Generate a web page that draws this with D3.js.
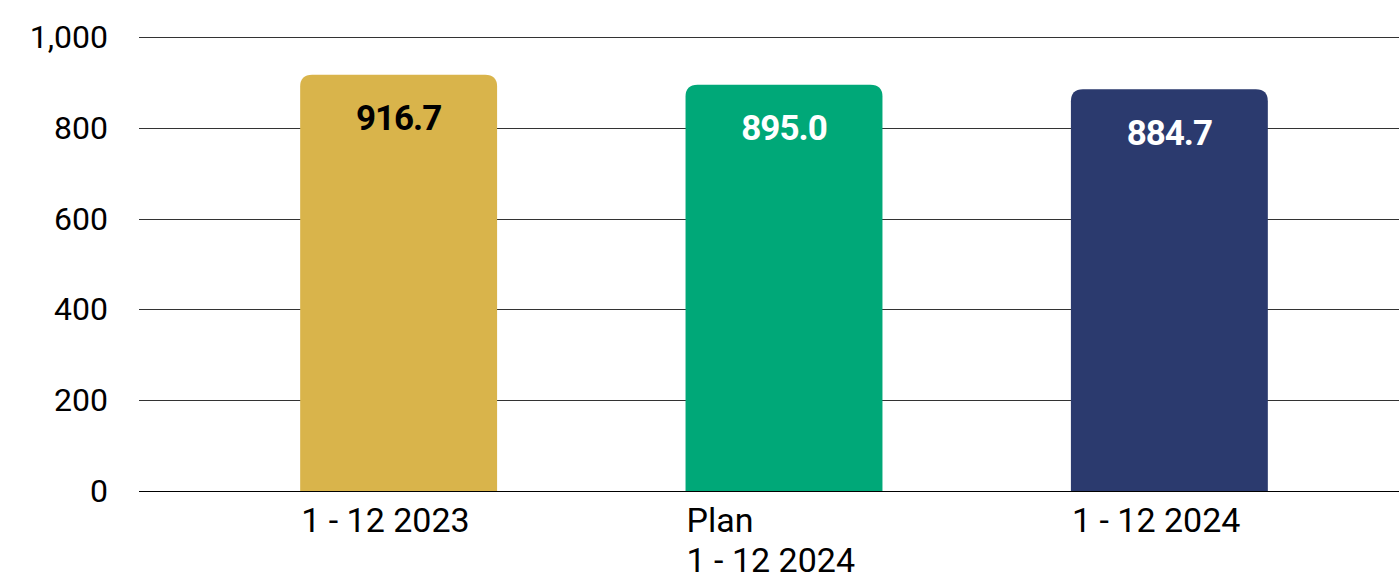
<!DOCTYPE html>
<html>
<head>
<meta charset="utf-8">
<script src="https://cdn.jsdelivr.net/npm/d3@7"></script>
<style>
  html, body { margin: 0; padding: 0; background: #fff; }
  svg { display: block; font-family: Roboto, "Noto Sans", sans-serif; }
</style>
</head>
<body>
<svg id="chart" width="1399" height="574"></svg>
<script>
// Annual totals: 2023 actual, 2024 plan, 2024 actual
const categories = [["1 - 12 2023"], ["Plan", "1 - 12 2024"], ["1 - 12 2024"]];
const values = [916.7, 895.0, 884.7];
const barColors = ["#D9B44B", "#00A878", "#2B3A6E"];
const labelColors = ["#000000", "#ffffff", "#ffffff"];
const yTicks = [0, 200, 400, 600, 800, 1000];

const svg = d3.select("#chart");
const gridLeft = 139, gridRight = 1399;
const y0 = 491, y1 = 37;

const y = d3.scaleLinear().domain([0, 1000]).range([y0, y1]);
const x = d3.scaleBand()
  .domain(d3.range(categories.length))
  .range([205.75, 1362.25])
  .paddingInner(0.489)
  .paddingOuter(0.245);

// horizontal gridlines
svg.append("g")
  .selectAll("line")
  .data(yTicks)
  .join("line")
  .attr("x1", gridLeft).attr("x2", gridRight)
  .attr("y1", d => Math.round(y(d)) + 0.5).attr("y2", d => Math.round(y(d)) + 0.5)
  .attr("stroke", d => d === 0 ? "#000" : "#333")
  .attr("stroke-width", 1);

// y tick labels
svg.append("g")
  .selectAll("text")
  .data(yTicks)
  .join("text")
  .attr("x", 108)
  .attr("y", d => y(d) + 11)
  .attr("text-anchor", "end")
  .attr("font-size", 32)
  .attr("fill", "#000")
  .text(d => d3.format(",")(d));

// bars with rounded top corners
const r = 12;
function barPath(x0, w, top, bottom) {
  return `M${x0},${bottom}V${top + r}Q${x0},${top} ${x0 + r},${top}` +
         `H${x0 + w - r}Q${x0 + w},${top} ${x0 + w},${top + r}V${bottom}Z`;
}
const bw = x.bandwidth();
svg.append("g")
  .selectAll("path")
  .data(values)
  .join("path")
  .attr("d", (d, i) => barPath(x(i), bw, y(d), y(0)))
  .attr("fill", (d, i) => barColors[i]);

// value labels inside the bars
svg.append("g")
  .selectAll("text")
  .data(values)
  .join("text")
  .attr("x", (d, i) => x(i) + bw / 2)
  .attr("y", d => y(d) + 55.5)
  .attr("text-anchor", "middle")
  .attr("font-size", 35)
  .attr("font-weight", "bold")
  .attr("letter-spacing", -1)
  .attr("fill", (d, i) => labelColors[i])
  .text(d => d.toFixed(1));

// category labels, left-aligned to the bar
const cat = svg.append("g")
  .selectAll("text")
  .data(categories)
  .join("text")
  .attr("x", (d, i) => x(i) + 1)
  .attr("y", 532)
  .attr("font-size", 34)
  .attr("fill", "#000");
cat.selectAll("tspan")
  .data(d => d)
  .join("tspan")
  .attr("x", function () { return d3.select(this.parentNode).attr("x"); })
  .attr("dy", (d, j) => j === 0 ? 0 : 40)
  .text(d => d);
</script>
</body>
</html>
